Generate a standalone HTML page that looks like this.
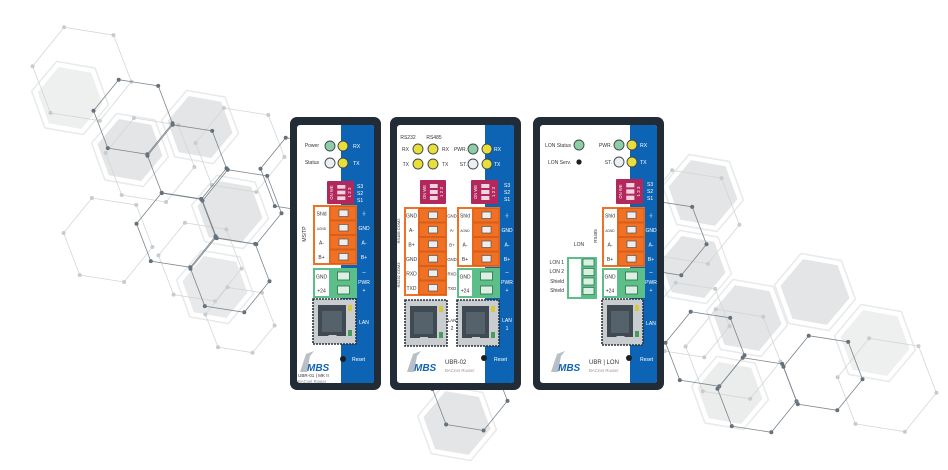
<!DOCTYPE html>
<html><head><meta charset="utf-8">
<style>
html,body{margin:0;padding:0;background:#fff;width:948px;height:470px;overflow:hidden}
svg{display:block;font-family:"Liberation Sans",sans-serif}
</style></head>
<body>
<svg id="s" width="948" height="470" viewBox="0 0 948 470" xmlns="http://www.w3.org/2000/svg"></svg>
<script>
var o=[];
function hp(cx,cy,r,rot){var p=[];for(var k=0;k<6;k++){var a=(rot+60*k)*Math.PI/180;p.push([cx+r*Math.cos(a),cy+r*Math.sin(a)]);}return p;}
function ps(p){return p.map(function(q){return q[0].toFixed(1)+","+q[1].toFixed(1)}).join(" ");}
function fill(cx,cy,r,c){o.push('<polygon points="'+ps(hp(cx,cy,r+6,10))+'" fill="none" stroke="#e8e9ea" stroke-width="1.5"/>');
 o.push('<polygon points="'+ps(hp(cx,cy,r,10))+'" fill="'+(c||"#e3e5e6")+'"/>');}
function line(cx,cy,r,col,dc){var p=hp(cx,cy,r,9);o.push('<polygon points="'+ps(p)+'" fill="none" stroke="'+col+'" stroke-width="0.8"/>');
 p.forEach(function(q){o.push('<circle cx="'+q[0].toFixed(1)+'" cy="'+q[1].toFixed(1)+'" r="2" fill="'+dc+'"/>')});}
[[70,98,33,"#eeefef"],[130,150,33],[200,127,33],[230,212,33],[215,287,33,"#e8e9ea"],[703,193,35],[693,267,33],[747,318,35],[815,292,35],[875,343,35,"#eeefef"],[730,393,33,"#ebecec"],[457,423,34]].forEach(function(h){fill(h[0],h[1],h[2],h[3]);});
var L="#d3d6d8",LD="#c8cccf";
[[82,74,50],[150,160,45],[240,150,45],[108,240,45],[200,262,42],[690,217,50],[733,354,48],[887,385,50],[690,320,40],[240,320,35]].forEach(function(h){line(h[0],h[1],h[2],L,LD);});
var D="#7d878f";
[[133,117,40],[187,162,40],[242,207,40],[176,230,40],[230,275,40],[667,238,40],[705,349,40],[757,395,40],[823,373,40],[300,175,40],[470,395,38]].forEach(function(h){line(h[0],h[1],h[2],D,"#66717a");});

function T(x,y,s,sz,col,anc,extra){o.push('<text x="'+x+'" y="'+y+'" font-size="'+sz+'" fill="'+col+'" text-anchor="'+(anc||"start")+'" '+(extra||"")+'>'+s+'</text>');}
function R(x,y,w,h,f,extra){o.push('<rect x="'+x+'" y="'+y+'" width="'+w+'" height="'+h+'" fill="'+f+'" '+(extra||"")+'/>');}
function led(x,y,c){o.push('<circle cx="'+x+'" cy="'+y+'" r="5" fill="'+c+'" stroke="#3a4550" stroke-width="0.9"/>');}
var YE="#e9df3b",GR="#8fcea5",GY="#eceef0";
function frame(x,y,w,h,bx){R(x,y,w,h,"#222c36",'rx="7"');R(x+7,y+8,w-14,h-15,"#fff",'rx="3"');R(bx,y+8,x+w-7-bx,h-15,"#0e64b4",'rx="3"');R(bx,y+8,6,h-15,"#0e64b4");}
function dip(x,y,w,h,lx){R(x,y,w,h,"#b2285d",'rx="1"');for(var i=0;i<3;i++){R(x+w*0.38,y+4+i*(h-6)/3,w*0.3,(h-6)/3-2,"#f3d3e0");}
 T(x+5,y+h/2,"ON WE",4.2,"#fff","middle",'transform="rotate(-90 '+(x+5)+' '+(y+h/2)+')" dominant-baseline="middle"');
 T(x+w-4,y+h/2,"1 2 3",4.5,"#fff","middle",'transform="rotate(-90 '+(x+w-4)+' '+(y+h/2)+')" dominant-baseline="middle"');
 ["S3","S2","S1"].forEach(function(s,i){T(lx,y+7+i*7,s,5,"#fff");});}
function term(x,y,lw,tw,labels,col,right,rx,rsz){var n=labels.length,rh=14.5;
 R(x,y,lw+tw,n*rh+2,col);R(x+2,y+2,lw-3,n*rh-2,"#fff");
 for(var i=0;i<n;i++){var yy=y+1+i*rh;R(x+lw,yy+0.5,tw-1,rh-1,col,'stroke="#c95313" stroke-width="0.6"');
  R(x+lw+tw/2-4.5,yy+4,9,6.5,"#eeeeee",'stroke="#555" stroke-width="0.7"');
  T(x+lw/2,yy+rh/2+2,labels[i][0],labels[i][0]=="AGND"?3.2:5,"#333","middle");
  if(right)T(rx,yy+rh/2+2,labels[i][1],rsz||5,right,"middle");}}
function rj(x,y,w,h){R(x,y,w,h,"#c9cdd0",'stroke="#2b333a" stroke-width="1.6" stroke-dasharray="2 1"');
 R(x+5,y+6,w-15,h-14,"#3f4a53");R(x+9,y+12,w-23,h-24,"#56626b");R(x+w/2-6,y+h-9,8,4,"#c9cdd0");
 R(x+w-8,y+6,4,6,"#d8c93a");R(x+w-8,y+h-14,4,6,"#4a9b5e");}
function logo(x,y){o.push('<path d="M'+(x+2)+' '+(y+12)+' L'+(x+8)+' '+(y-6)+' L'+(x+16)+' '+(y-9)+' L'+(x+12)+' '+(y-4)+' L'+(x+9)+' '+(y+12)+'Z" fill="#b9bfc4"/>');
 T(x+9,y+11,"MBS",10,"#1265b3","start",'font-weight="bold" font-style="italic"');}
function green(x,y,lw,tw,labels){var rh=14;R(x,y,lw+tw,labels.length*rh+2,"#5cbf8a");R(x+2,y+2,lw-3,labels.length*rh-2,"#fff");
 for(var i=0;i<labels.length;i++){var yy=y+1+i*rh;R(x+lw+tw/2-6,yy+3,12,8,"#d9f0e2",'stroke="#2d6b47" stroke-width="0.8"');T(x+lw/2,yy+rh/2+2.5,labels[i],5,"#333","middle");}}

// Device 1
frame(290,117,91,273,341);
T(319,147,"Power",5,"#333","end");led(330,146,GR);led(343,146,YE);T(353,148,"RX",5.2,"#fff");
T(319,164,"Status",5,"#333","end");led(330,163,GY);led(343,163,YE);T(353,165,"TX",5.2,"#fff");
dip(327,181,27,23,357);
term(313,205,17,27,[["Shld","⏚"],["AGND","GND"],["A-","A-"],["B+","B+"]],"#f07024","#fff",364);
T(306,234,"MS/TP",5,"#333","middle",'transform="rotate(-90 306 234)"');
green(313,268,17,27,["GND","+24"]);T(364,274,"–",6,"#fff","middle");T(364,284,"PWR",5,"#fff","middle");T(364,292,"+",5,"#fff","middle");
rj(313,299,43,45);T(364,324,"LAN",5,"#fff","middle");
logo(298,360);o.push('<circle cx="343" cy="359" r="3" fill="#1a1f24"/>');T(352,361,"Reset",5,"#fff");
T(298,377,"UBR-01 | MK II",4.6,"#333");T(298,383,"BACnet Router",4.2,"#888");

// Device 2
frame(390,117,131,273,485);
T(408,139,"RS232",5,"#333","middle");T(434,139,"RS485",5,"#333","middle");
T(409,151,"RX",5,"#333","end");led(418,149,YE);led(433,149,YE);T(442,151,"RX",5,"#333");
T(467,151,"PWR.",5,"#333","end");led(473,149,GR);led(487,149,YE);T(494,151,"RX",5,"#fff");
T(409,166,"TX",5,"#333","end");led(418,164,YE);led(433,164,YE);T(442,166,"TX",5,"#333");
T(467,166,"ST.",5,"#333","end");led(473,164,GY);led(487,164,YE);T(494,166,"TX",5,"#fff");
dip(420,180,26,24,447);dip(471,180,27,24,504);
term(404,207,15,28,[["GND","GND"],["A-","A-"],["B+","B+"],["GND","GND"],["RXD","RXD"],["TXD","TXD"]],"#f07024","#333",452,4.3);
T(400,231,"RS485 COM2",4,"#333","middle",'transform="rotate(-90 400 231)"');
T(400,275,"RS232 COM3",4,"#333","middle",'transform="rotate(-90 400 275)"');
term(457,207,16,27,[["Shld","⏚"],["AGND","GND"],["A-","A-"],["B+","B+"]],"#f07024","#fff",507);
green(457,268,16,27,["GND","+24"]);T(507,274,"–",6,"#fff","middle");T(507,284,"PWR",5,"#fff","middle");T(507,292,"+",5,"#fff","middle");
rj(405,300,42,46);rj(457,300,42,46);
T(452,322,"LAN",4.5,"#333","middle");T(452,330,"2",5,"#333","middle");T(507,322,"LAN",5,"#fff","middle");T(507,330,"1",5,"#fff","middle");
logo(405,360);T(445,364,"UBR-02",6,"#333");T(445,372,"BACnet Router",4.4,"#999");
o.push('<circle cx="484" cy="358" r="3" fill="#1a1f24"/>');T(494,361,"Reset",5,"#fff");

// Device 3
frame(533,117,131,273,630);
T(571,147,"LON Status",5,"#333","end");led(579,145,GR);
T(571,164,"LON Serv.",5,"#333","end");o.push('<circle cx="579" cy="162" r="2.6" fill="#1a1f24"/>');
T(612,147,"PWR.",5,"#333","end");led(619,145,GR);led(632,145,YE);T(640,147,"RX",5.2,"#fff");
T(612,164,"ST.",5,"#333","end");led(619,162,GY);led(632,162,YE);T(640,164,"TX",5.2,"#fff");
dip(616,179,27,25,647);
term(602,207,16,27,[["Shld","⏚"],["AGND","GND"],["A-","A-"],["B+","B+"]],"#f07024","#fff",651);
T(597,236,"RS485",4.5,"#333","middle",'transform="rotate(-90 597 236)"');
green(602,268,16,27,["GND","+24"]);T(651,274,"–",6,"#fff","middle");T(651,284,"PWR",5,"#fff","middle");T(651,292,"+",5,"#fff","middle");
rj(602,299,41,46);T(651,325,"LAN",5,"#fff","middle");
T(579,246,"LON",5,"#333","middle");
R(567,257,30,42,"#5cbf8a");R(569,259,12,38,"#fff");
for(var i=0;i<4;i++){R(583,259+i*9.5,11,7,"#d9f0e2",'stroke="#2d6b47" stroke-width="0.7"');}
T(564,264,"LON 1",5,"#333","end");T(564,273,"LON 2",5,"#333","end");T(564,283,"Shield",5,"#333","end");T(564,292,"Shield",5,"#333","end");
logo(549,360);T(589,364,"UBR | LON",6,"#333");T(589,372,"BACnet Router",4.4,"#999");
o.push('<circle cx="629" cy="358" r="3" fill="#1a1f24"/>');T(640,361,"Reset",5,"#fff");

document.getElementById("s").innerHTML=o.join("");
</script>
</body></html>
